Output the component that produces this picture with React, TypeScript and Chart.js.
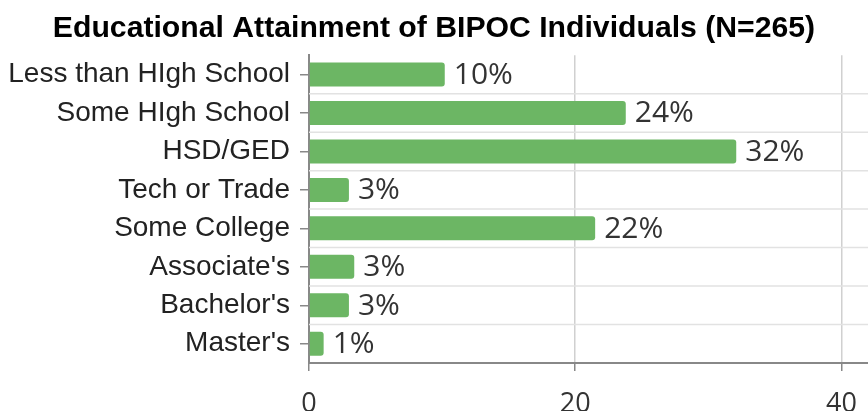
import React, { useEffect, useRef } from "react";
import { Chart, registerables } from "chart.js";

Chart.register(...registerables);

const categories = [
  "Less than HIgh School",
  "Some HIgh School",
  "HSD/GED",
  "Tech or Trade",
  "Some College",
  "Associate's",
  "Bachelor's",
  "Master's",
];
const percentValues = [10.2, 23.8, 32.1, 3.0, 21.5, 3.4, 3.0, 1.1];
const valueLabels = ["10%", "24%", "32%", "3%", "22%", "3%", "3%", "1%"];
const xTickValues = [0, 20, 40];
const titleText = "Educational Attainment of BIPOC Individuals (N=265)";

const bandLinesPlugin = {
  id: "bandLines",
  beforeDatasetsDraw(chart: any) {
    const { ctx, chartArea, scales } = chart;
    const y = scales.y;
    ctx.save();
    ctx.strokeStyle = "#e2e2e2";
    ctx.lineWidth = 1.5;
    for (let i = 0; i < categories.length - 1; i++) {
      const py = (y.getPixelForValue(i) + y.getPixelForValue(i + 1)) / 2;
      ctx.beginPath();
      ctx.moveTo(chartArea.left, py);
      ctx.lineTo(chartArea.right, py);
      ctx.stroke();
    }
    ctx.restore();
  },
};

const valueLabelPlugin = {
  id: "valueLabels",
  afterDatasetsDraw(chart: any) {
    const { ctx } = chart;
    const meta = chart.getDatasetMeta(0);
    ctx.save();
    ctx.font = "30px 'Open Sans'";
    ctx.fillStyle = "#333333";
    ctx.textAlign = "left";
    ctx.textBaseline = "middle";
    meta.data.forEach((bar: any, i: number) => {
      ctx.fillText(valueLabels[i], bar.x + 9, bar.y + 1);
    });
    ctx.restore();
  },
};

export default function App() {
  const canvasRef = useRef<HTMLCanvasElement | null>(null);

  useEffect(() => {
    document.body.style.margin = "0";
    const canvas = canvasRef.current;
    if (!canvas) return;
    const chart = new Chart(canvas, {
      type: "bar",
      data: {
        labels: categories,
        datasets: [
          {
            data: percentValues,
            backgroundColor: "#6cb664",
            borderColor: "#6cb664",
            borderWidth: 0,
            borderRadius: 3,
            categoryPercentage: 0.8,
            barPercentage: 0.78,
          },
        ],
      },
      options: {
        indexAxis: "y",
        responsive: false,
        animation: false,
        devicePixelRatio: 1,
        layout: { padding: { left: 0, right: 0, top: 0, bottom: 0 } },
        plugins: {
          legend: { display: false },
          tooltip: { enabled: false },
          title: {
            display: true,
            text: titleText,
            color: "#000000",
            font: { family: "'Liberation Sans', Arial, sans-serif", size: 30.2, weight: "bold", lineHeight: 1.2 },
            padding: { top: 11, bottom: 8 },
          },
        },
        scales: {
          x: {
            type: "linear",
            min: 0,
            max: 42,
            afterFit(scale: any) {
              scale.height = 48;
              scale.paddingLeft = 0;
              scale.paddingRight = 0;
            },
            afterBuildTicks(scale: any) {
              scale.ticks = xTickValues.map((v) => ({ value: v }));
            },
            ticks: {
              includeBounds: false,
              color: "#333333",
              font: { family: "'Open Sans', sans-serif", size: 27 },
              padding: 17,
              maxRotation: 0,
            },
            grid: {
              color: "#d0d0d0",
              lineWidth: 1.5,
              tickColor: "#888888",
              tickLength: 8,
            },
            border: { color: "#888888", width: 2 },
          },
          y: {
            afterFit(scale: any) {
              scale.width = 309;
            },
            ticks: {
              color: "#222222",
              font: { family: "'Liberation Sans', Arial, sans-serif", size: 28 },
              padding: 10,
              autoSkip: false,
            },
            grid: {
              offset: false,
              drawOnChartArea: false,
              tickColor: "#888888",
              tickLength: 9,
              lineWidth: 1.5,
            },
            border: { color: "#888888", width: 2 },
          },
        },
      },
      plugins: [bandLinesPlugin, valueLabelPlugin],
    });
    return () => chart.destroy();
  }, []);

  return (
    <div style={{ width: 868, height: 411, overflow: "hidden" }}>
      <canvas ref={canvasRef} width={868} height={411} style={{ display: "block" }} />
    </div>
  );
}
